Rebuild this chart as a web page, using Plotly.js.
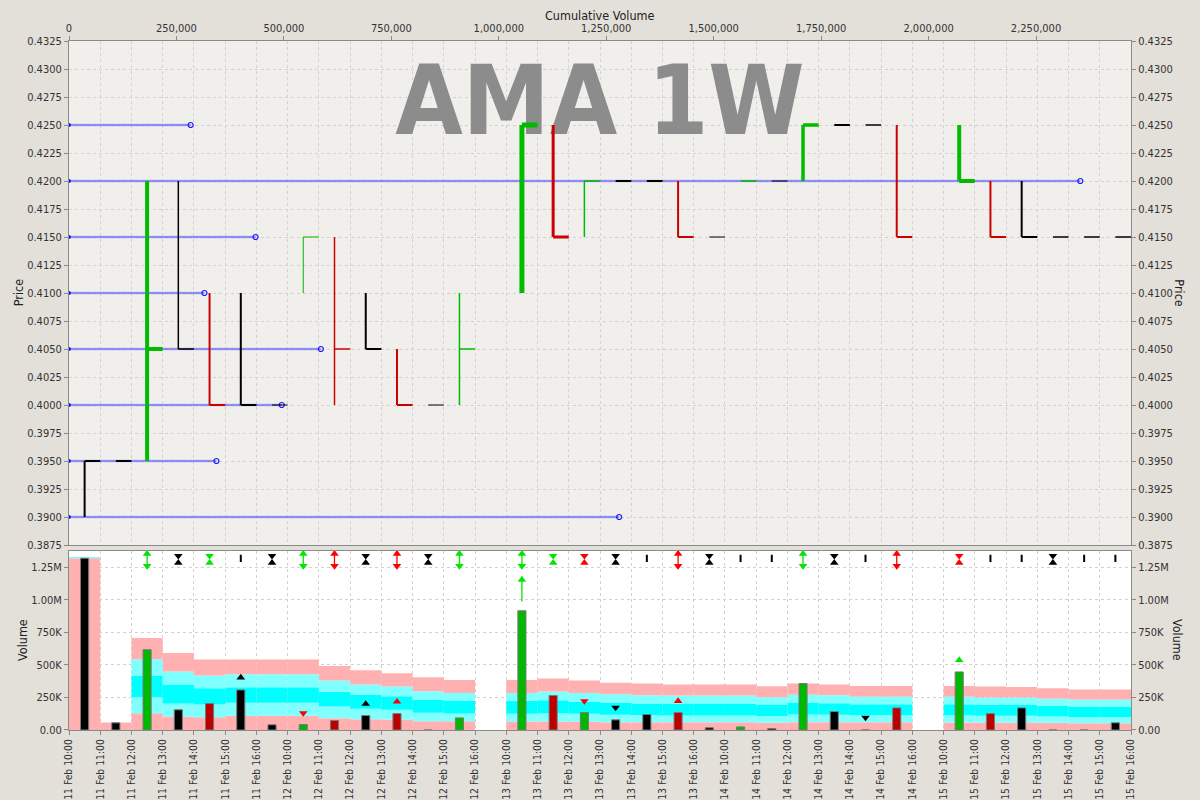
<!DOCTYPE html>
<html><head><meta charset="utf-8">
<script src="https://cdn.plot.ly/plotly-3.0.1.min.js"></script>
<style>html,body{margin:0;padding:0;background:#e3dfd9;} #chart{width:1200px;height:800px;}</style>
</head><body><div id="chart"></div>
<script>
// ---------- DATA ----------
const days = ['11 Feb','12 Feb','13 Feb','14 Feb','15 Feb'];
const hours = ['10:00','11:00','12:00','13:00','14:00','15:00','16:00'];
const tickLabels = days.flatMap(d => hours.map(h => d + ' ' + h));   // 35 hourly ticks

// hourly bars (34 intervals); null = no trading
const barHigh  = [.3950,.3950,.4200,.4200,.4100,.4100,.4000,.4150,.4150,.4100,.4050,.4000,.4100,null,.4250,.4250,.4200,.4200,.4200,.4200,.4150,.4200,.4200,.4250,.4250,.4250,.4250,null,.4250,.4200,.4200,.4150,.4150,.4150];
const barLow   = [.3900,.3950,.3950,.4050,.4000,.4000,.4000,.4100,.4000,.4050,.4000,.4000,.4000,null,.4100,.4150,.4150,.4200,.4200,.4150,.4150,.4200,.4200,.4200,.4250,.4250,.4150,null,.4200,.4150,.4150,.4150,.4150,.4150];
const barClose = [.3950,.3950,.4050,.4050,.4000,.4000,.4000,.4150,.4050,.4050,.4000,.4000,.4050,null,.4250,.4150,.4200,.4200,.4200,.4150,.4150,.4200,.4200,.4250,.4250,.4250,.4150,null,.4200,.4150,.4150,.4150,.4150,.4150];
const barDir   = ['k','k','g','k','r','k','k','g','r','k','r','k','g',null,'g','r','g','k','k','r','k','g','k','g','k','k','r',null,'g','r','k','k','k','k'];
// hourly volume (thousands)
const volume   = [1320,55,617,155,203,308,40,42,73,111,126,0,93,null,916,265,134,78,119,134,17,24,11,357,142,0,170,null,446,126,170,0,0,55];
// volume bands (thousands): band boundaries from bottom
const band1 = [1320,57,129,104,98,109,109,109,90,83,80,68,68,null,65,65,63,60,60,60,60,60,55,60,60,60,60,null,57,57,57,55,52,52];
const band2 = [1330,57,252,203,196,209,209,209,180,163,155,132,127,null,124,129,124,117,113,111,111,111,106,119,117,113,113,null,113,109,109,104,98,98];
const band3 = [1330,57,418,349,321,328,328,328,293,272,259,234,226,null,224,229,219,209,203,203,203,203,196,211,206,198,198,null,198,193,193,186,180,180];
const band4 = [1330,57,543,449,418,428,428,428,380,349,334,298,285,null,285,295,285,275,267,265,265,265,252,270,267,255,255,null,255,249,249,241,234,234];
const band5 = [1330,57,707,592,541,541,541,541,492,459,436,405,385,null,385,395,380,364,357,349,349,349,336,357,349,339,339,null,339,334,331,321,311,311];
// signal markers along the top of the volume panel
const sigType  = [null,null,'dbl','hg','hg','bar','hg','dbl','dbl','hg','dbl','hg','dbl',null,'dbl','hg','hg','hg','bar','dbl','hg','bar','bar','dbl','hg','bar','dbl',null,'hg','bar','bar','hg','bar','bar'];
const sigColor = [null,null,'g','k','g','k','k','g','r','k','r','k','g',null,'g','g','r','k','k','r','k','k','k','g','k','k','r',null,'r','k','k','k','k','k'];
// signals inside the volume panel
const midIdx   = [5,7,9,10,14,16,17,19,25,28];
const midLevel = [403,130,200,218,1154,222,172,222,96,537];
const midDir   = ['up','down','up','up','up','down','down','up','down','up'];
const midColor = ['k','r','k','r','g','r','k','r','k','g'];
const stemIdx = [14], stemFrom = [988], stemTo = [1179];
// volume at price (thousands)
const vapPrice  = [0.3900,0.3950,0.4000,0.4050,0.4100,0.4150,0.4200,0.4250];
const vapVolume = [1280,343,495,586,315,434,2353,283];
const chartTitle = 'AMA 1W';

// ---------- STYLE ----------
const barLineWidth = [2,2,4,1.5,2,2,1,1,1.5,2,2,1,1.5,0,5,3,1.5,2,2,2,1,1.5,1,3.5,2,1.5,2,0,4,2,2,1.5,1.5,1.5];
const upperCol = {g:'#00bb00', r:'#cc0000', k:'#000000'};
const volCol   = {g:'#00b800', r:'#bb0000', k:'#000000'};
const sigCol   = {g:'#00e600', r:'#ff0000', k:'#000000'};
const FONT = 'DejaVu Sans Condensed, DejaVu Sans, sans-serif';
const n = barHigh.length;
const xc = Array.from({length:n}, (_,i) => i + 0.5);
const tickIdx = tickLabels.map((_,i) => i);
const VMAX = 1.379e6;
const DBL_TOP = 1.376e6, DBL_BOT = 1.238e6, DBL_UP = 1.354e6, DBL_DN = 1.261e6;
const HG_TOP = 1.338e6, HG_BOT = 1.285e6, I_TOP = 1.346e6, I_BOT = 1.290e6;
const CUMMAX = 2.471e6;

const traces = [];

// ---------- LOWER PANEL ----------
const bands = [band1, band2, band3, band4, band5];
const bandColors = ['#ffb0b0','#80ffff','#00ffff','#80ffff','#ffb0b0'];
bands.forEach((hi, k) => {
  const lo = k === 0 ? hi.map(v => v == null ? null : 0) : bands[k-1];
  traces.push({type:'bar', x: xc, y: hi.map((v,i) => v == null ? null : (v - lo[i]) * 1000),
    base: lo.map(v => v == null ? 0 : v * 1000), width: 1,
    marker:{color: bandColors[k], line:{width:0}}, xaxis:'x', yaxis:'y2', hoverinfo:'skip'});
});
traces.push({type:'bar', x: xc, y: volume.map(v => v == null ? null : v * 1000), width: 0.26,
  marker:{color: barDir.map(d => volCol[d] || '#000'), line:{color:'#7a7a7a', width:1}},
  xaxis:'x', yaxis:'y2', hoverinfo:'skip'});

['g','r','k'].forEach(c => {
  const lx = [], ly = [], mx = [], my = [], ms = [];
  sigType.forEach((t,i) => {
    if (!t || sigColor[i] !== c) return;
    const x = xc[i];
    if (t === 'dbl') { lx.push(x,x,null); ly.push(DBL_TOP, DBL_BOT, null);
      mx.push(x,x); my.push(DBL_UP, DBL_DN); ms.push('triangle-up','triangle-down'); }
    else if (t === 'hg') { mx.push(x,x); my.push(HG_TOP, HG_BOT); ms.push('triangle-down','triangle-up'); }
    else if (t === 'bar') { lx.push(x,x,null); ly.push(I_TOP, I_BOT, null); }
  });
  midIdx.forEach((idx,j) => {
    if (midColor[j] !== c) return;
    mx.push(xc[idx]); my.push(midLevel[j]*1000); ms.push(midDir[j] === 'up' ? 'triangle-up' : 'triangle-down');
  });
  if (c === 'g') stemIdx.forEach((idx,j) => { lx.push(xc[idx], xc[idx], null); ly.push(stemFrom[j]*1000, stemTo[j]*1000, null); });
  traces.push({type:'scatter', mode:'lines', x: lx, y: ly, line:{color: sigCol[c], width: c==='k'?2:1.3},
    xaxis:'x', yaxis:'y2', hoverinfo:'skip'});
  traces.push({type:'scatter', mode:'markers', x: mx, y: my,
    marker:{symbol: ms, size: 7.5, color: sigCol[c], line:{width:0}}, xaxis:'x', yaxis:'y2', hoverinfo:'skip'});
});
traces.push({type:'scatter', x:[null], y:[null], xaxis:'x', yaxis:'y4', hoverinfo:'skip'});

// ---------- UPPER PANEL ----------
traces.push({type:'scatter', mode:'text', x:[CUMMAX/2], y:[0.4264], text:[chartTitle],
  textposition:'middle center', textfont:{family: FONT, size: 97, color:'#8c8c8c', weight: 'bold'},
  xaxis:'x2', yaxis:'y', hoverinfo:'skip'});
const vx = [], vy = [];
vapPrice.forEach((p,i) => { vx.push(0, vapVolume[i]*1000, null); vy.push(p, p, null); });
traces.push({type:'scatter', mode:'lines', x: vx, y: vy, line:{color:'rgba(110,110,255,0.22)', width:3},
  xaxis:'x2', yaxis:'y', hoverinfo:'skip'});
traces.push({type:'scatter', mode:'lines', x: vx, y: vy, line:{color:'#4a4aff', width:1},
  xaxis:'x2', yaxis:'y', hoverinfo:'skip'});
traces.push({type:'scatter', mode:'markers', x: vapVolume.map(v => v*1000), y: vapPrice,
  marker:{symbol:'circle-open', size:5, color:'#1c1cff', line:{width:1.2, color:'#1c1cff'}},
  xaxis:'x2', yaxis:'y', hoverinfo:'skip'});
traces.push({type:'scatter', mode:'markers', x: vapPrice.map(() => 0), y: vapPrice,
  marker:{symbol:'circle', size:4, color:'#1c1cff'}, xaxis:'x2', yaxis:'y', hoverinfo:'skip'});

for (let i = 0; i < n; i++) {
  if (barHigh[i] == null) continue;
  const x = xc[i];
  traces.push({type:'scatter', mode:'lines',
    x: [x, x, null, x, i + 1], y: [barLow[i], barHigh[i], null, barClose[i], barClose[i]],
    line:{color: upperCol[barDir[i]], width: barLineWidth[i]},
    xaxis:'x3', yaxis:'y', hoverinfo:'skip'});
}
traces.push({type:'scatter', x:[null], y:[null], xaxis:'x2', yaxis:'y3', hoverinfo:'skip'});

// ---------- LAYOUT ----------
const tickFont = {family: FONT, size: 11, color:'#333'};
const grid = {showgrid:true, gridcolor:'#d2d2d2', griddash:'3px,3px', gridwidth:1};
const axl = {showline:true, linecolor:'#8a8a8a', linewidth:1, ticks:'outside', ticklen:4,
  tickcolor:'#8a8a8a', zeroline:false, tickfont: tickFont};
const volTicks = [0,250000,500000,750000,1000000,1250000];
const volText = ['0.00','250K','500K','750K','1.00M','1.25M'];
const cumTicks = [0,250000,500000,750000,1000000,1250000,1500000,1750000,2000000,2250000];
const upDom = [0.2685, 1], loDom = [0, 0.2605];
const titleFont = {family: FONT, size: 12.5, color:'#222'};

const layout = {
  width:1200, height:800, margin:{l:69, r:69, t:41, b:70, pad:0},
  paper_bgcolor:'#e3dfd9', plot_bgcolor:'#ffffff', showlegend:false, barmode:'overlay',
  xaxis:{anchor:'y2', domain:[0,1], range:[0,n], tickvals: tickIdx, ticktext: tickLabels, tickangle:-90,
    ...grid, ...axl, tickfont:{family: FONT, size: 10.3, color:'#333'}, mirror:true},
  yaxis2:{anchor:'x', domain: loDom, range:[0,VMAX], tickvals: volTicks, ticktext: volText, ...grid, ...axl},
  yaxis4:{overlaying:'y2', side:'right', anchor:'x', range:[0,VMAX], tickvals: volTicks, ticktext: volText,
    showgrid:false, ...axl},
  xaxis2:{anchor:'y', side:'top', range:[0,CUMMAX], tickvals: cumTicks, tickformat:',', showgrid:false, ...axl, mirror:true},
  xaxis3:{overlaying:'x2', anchor:'y', range:[0,n], tickvals: tickIdx, showticklabels:false, ticks:'',
    ...grid, showline:false, zeroline:false},
  yaxis:{anchor:'x2', domain: upDom, range:[0.3875,0.4325], tick0:0.3875, dtick:0.0025, tickformat:'.4f', ...grid, ...axl},
  yaxis3:{overlaying:'y', side:'right', anchor:'x2', range:[0.3875,0.4325], tick0:0.3875, dtick:0.0025,
    tickformat:'.4f', showgrid:false, ...axl},
  shapes:[{type:'rect', xref:'paper', yref:'paper', x0:0, x1:1, y0: upDom[0], y1: 1,
    fillcolor:'#f0efeb', line:{width:0}, layer:'below'}],
  annotations:[
    {text:'Cumulative Volume', xref:'paper', yref:'paper', x:0.5, y:1.0363, showarrow:false, font:titleFont, xanchor:'center', yanchor:'middle'},
    {text:'Price', xref:'paper', yref:'paper', x:-0.048, y:0.634, textangle:-90, showarrow:false, font:titleFont, xanchor:'center', yanchor:'middle'},
    {text:'Price', xref:'paper', yref:'paper', x:1.046, y:0.634, textangle:90, showarrow:false, font:titleFont, xanchor:'center', yanchor:'middle'},
    {text:'Volume', xref:'paper', yref:'paper', x:-0.0443, y:0.1306, textangle:-90, showarrow:false, font:titleFont, xanchor:'center', yanchor:'middle'},
    {text:'Volume', xref:'paper', yref:'paper', x:1.0443, y:0.1306, textangle:90, showarrow:false, font:titleFont, xanchor:'center', yanchor:'middle'}
  ]
};
Plotly.newPlot('chart', traces, layout, {staticPlot:true, displayModeBar:false});
</script></body></html>
